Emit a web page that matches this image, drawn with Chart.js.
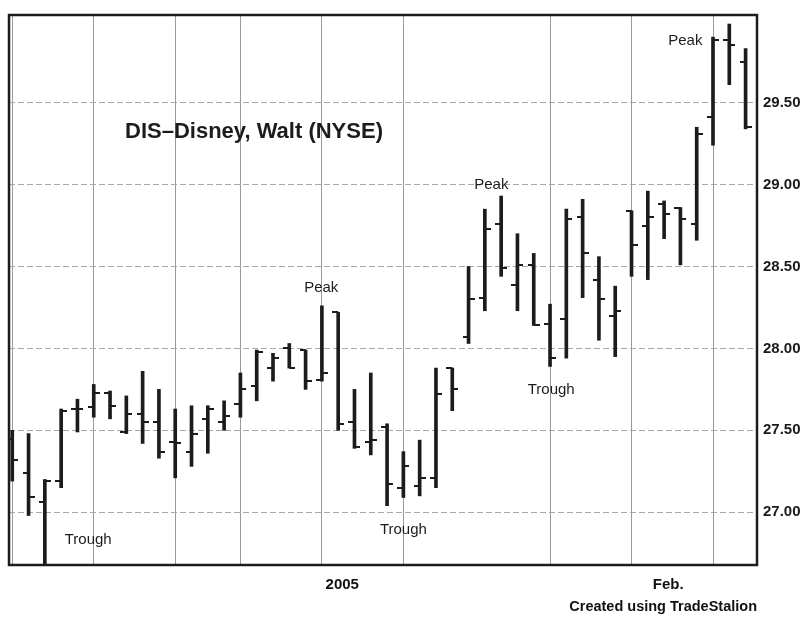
<!DOCTYPE html>
<html>
<head>
<meta charset="utf-8">
<script src="https://cdn.jsdelivr.net/npm/chart.js@4"></script>
<style>
html,body{margin:0;padding:0;background:#fff;}
#wrap{width:805px;height:617px;}
</style>
</head>
<body>
<div id="wrap"><canvas id="c" width="805" height="617"></canvas></div>
<script>
// Trading days (Dec 6 2004 – Feb 9 2005)
const dates = [
  '2004-12-06','2004-12-07','2004-12-08','2004-12-09','2004-12-10',
  '2004-12-13','2004-12-14','2004-12-15','2004-12-16','2004-12-17',
  '2004-12-20','2004-12-21','2004-12-22','2004-12-23',
  '2004-12-27','2004-12-28','2004-12-29','2004-12-30','2004-12-31',
  '2005-01-03','2005-01-04','2005-01-05','2005-01-06','2005-01-07',
  '2005-01-10','2005-01-11','2005-01-12','2005-01-13','2005-01-14',
  '2005-01-18','2005-01-19','2005-01-20','2005-01-21',
  '2005-01-24','2005-01-25','2005-01-26','2005-01-27','2005-01-28',
  '2005-01-31','2005-02-01','2005-02-02','2005-02-03','2005-02-04',
  '2005-02-07','2005-02-08','2005-02-09'
];
const openP = [27.45,27.24,27.06,27.19,27.63,27.64,27.73,27.49,27.60,27.55,
  27.43,27.37,27.57,27.55,27.66,27.77,27.88,28.00,27.99,27.81,
  28.22,27.55,27.43,27.52,27.15,27.16,27.21,27.88,28.07,28.31,
  28.76,28.39,28.51,28.15,28.18,28.80,28.42,28.20,28.84,28.75,
  28.88,28.86,28.76,29.41,29.88,29.75];
const highP = [27.50,27.48,27.20,27.63,27.69,27.78,27.74,27.71,27.86,27.75,
  27.63,27.65,27.65,27.68,27.85,27.99,27.97,28.03,27.99,28.26,
  28.22,27.75,27.85,27.54,27.37,27.44,27.88,27.88,28.50,28.85,
  28.93,28.70,28.58,28.27,28.85,28.91,28.56,28.38,28.84,28.96,
  28.90,28.86,29.35,29.90,29.98,29.83];
const lowP = [27.19,26.98,26.55,27.15,27.49,27.58,27.57,27.48,27.42,27.33,
  27.21,27.28,27.36,27.50,27.58,27.68,27.80,27.88,27.75,27.80,
  27.50,27.39,27.35,27.04,27.09,27.10,27.15,27.62,28.03,28.23,
  28.44,28.23,28.14,27.89,27.94,28.31,28.05,27.95,28.44,28.42,
  28.67,28.51,28.66,29.24,29.61,29.34];
const closeP = [27.32,27.09,27.19,27.62,27.63,27.73,27.65,27.60,27.55,27.37,
  27.42,27.48,27.63,27.59,27.75,27.98,27.94,27.88,27.80,27.85,
  27.54,27.40,27.44,27.17,27.28,27.21,27.72,27.75,28.30,28.73,
  28.49,28.51,28.14,27.94,28.79,28.58,28.30,28.23,28.63,28.80,
  28.82,28.79,29.31,29.88,29.85,29.35];
const yTickValues = [27.00, 27.50, 28.00, 28.50, 29.00, 29.50];
const periodLabels = [{date:'2005-01-03', text:'2005'}, {date:'2005-02-01', text:'Feb.'}];
const chartTitle = 'DIS\u2013Disney, Walt (NYSE)';
const titleAnchor = {at: 6.92, price: 29.32};
const notes = [
  {text:'Trough', at: 4.66, price: 26.83},
  {text:'Peak', at: 18.96, price: 28.37},
  {text:'Trough', at: 24.0, price: 26.89},
  {text:'Peak', at: 29.4, price: 29.00},
  {text:'Trough', at: 33.07, price: 27.75},
  {text:'Peak', at: 41.3, price: 29.88}
];
const caption = 'Created using TradeStalion';

const INK = '#1c1c1c';
const idx = dates.map((d, i) => i);

// Monday gridlines derived from the dates
const xTicks = [];
dates.forEach((d, i) => {
  const wd = new Date(d + 'T12:00:00Z').getUTCDay();
  const prev = i > 0 ? new Date(dates[i-1] + 'T12:00:00Z') : null;
  const cur = new Date(d + 'T12:00:00Z');
  const newWeek = !prev || (cur - prev) > 3 * 86400000 || wd < prev.getUTCDay();
  if (wd === 1) xTicks.push({value: i, grid: true, text: ''});
});
periodLabels.forEach(p => {
  xTicks.push({value: dates.indexOf(p.date) + 1.25, grid: false, text: p.text});
});
xTicks.sort((a, b) => a.value - b.value);

function tickCanvas(side) {
  const c = document.createElement('canvas');
  c.width = 12; c.height = 2;
  const g = c.getContext('2d');
  g.fillStyle = INK;
  if (side === 'left') g.fillRect(0, 0, 6, 2); else g.fillRect(6, 0, 6, 2);
  return c;
}

const overlay = {
  id: 'overlay',
  afterDatasetsDraw(chart) {
    const {ctx, chartArea: a, scales: {x, y}} = chart;
    ctx.save();
    ctx.beginPath();
    ctx.rect(a.left, a.top, a.width, a.height);
    ctx.clip();
    ctx.fillStyle = INK;
    ctx.textAlign = 'center';
    ctx.textBaseline = 'middle';
    ctx.font = '15px "Liberation Sans", Arial, sans-serif';
    notes.forEach(n => ctx.fillText(n.text, x.getPixelForValue(n.at), y.getPixelForValue(n.price)));
    ctx.textAlign = 'left';
    ctx.font = 'bold 22px "Liberation Sans", Arial, sans-serif';
    ctx.fillText(chartTitle, x.getPixelForValue(titleAnchor.at), y.getPixelForValue(titleAnchor.price));
    ctx.restore();
    ctx.save();
    ctx.strokeStyle = INK;
    ctx.lineWidth = 2.5;
    ctx.strokeRect(a.left, a.top, a.width, a.height);
    ctx.restore();
  }
};

new Chart(document.getElementById('c'), {
  type: 'bar',
  data: {
    datasets: [
      {
        type: 'bar',
        data: idx.map(i => ({x: i, y: [lowP[i], highP[i]]})),
        backgroundColor: INK,
        borderWidth: 0,
        barThickness: 3,
        order: 3
      },
      {
        type: 'scatter',
        data: idx.map(i => ({x: i, y: openP[i]})),
        pointStyle: tickCanvas('left'),
        pointRadius: 6,
        order: 1
      },
      {
        type: 'scatter',
        data: idx.map(i => ({x: i, y: closeP[i]})),
        pointStyle: tickCanvas('right'),
        pointRadius: 6,
        order: 2
      }
    ]
  },
  options: {
    responsive: false,
    animation: false,
    devicePixelRatio: 1,
    events: [],
    layout: {padding: {left: 9, top: 13, right: 0, bottom: 0}},
    plugins: {legend: {display: false}, tooltip: {enabled: false}, title: {display: false}},
    scales: {
      x: {
        type: 'linear',
        min: -0.2,
        max: 45.7,
        offset: false,
        afterBuildTicks: s => { s.ticks = xTicks.map(t => ({...t})); },
        afterFit: s => { s.height = 52; },
        grid: {
          offset: false,
          drawTicks: false,
          lineWidth: 1,
          color: c => (c.tick && c.tick.grid) ? '#9a9a9a' : 'rgba(0,0,0,0)'
        },
        border: {display: false},
        ticks: {
          autoSkip: false,
          maxRotation: 0,
          padding: 11,
          color: '#111',
          font: {family: '"Liberation Sans", Arial, sans-serif', size: 15, weight: 'bold'},
          callback: (v, i, t) => t[i].text
        },
        title: {
          display: true,
          text: caption,
          align: 'end',
          color: '#111',
          font: {family: '"Liberation Sans", Arial, sans-serif', size: 14.5, weight: 'bold'},
          padding: {top: 0, bottom: 1}
        }
      },
      y: {
        type: 'linear',
        position: 'right',
        min: 26.678,
        max: 30.035,
        afterBuildTicks: s => { s.ticks = yTickValues.map(v => ({value: v})); },
        afterFit: s => { s.width = 48; },
        grid: {color: '#a8a8a8', lineWidth: 1, drawTicks: false},
        border: {display: false, dash: [6, 3]},
        ticks: {
          padding: 6,
          color: '#1a1a1a',
          font: {family: '"Liberation Sans", Arial, sans-serif', size: 15, weight: 'bold'},
          callback: v => Number(v).toFixed(2)
        }
      }
    }
  },
  plugins: [overlay]
});
</script>
</body>
</html>
